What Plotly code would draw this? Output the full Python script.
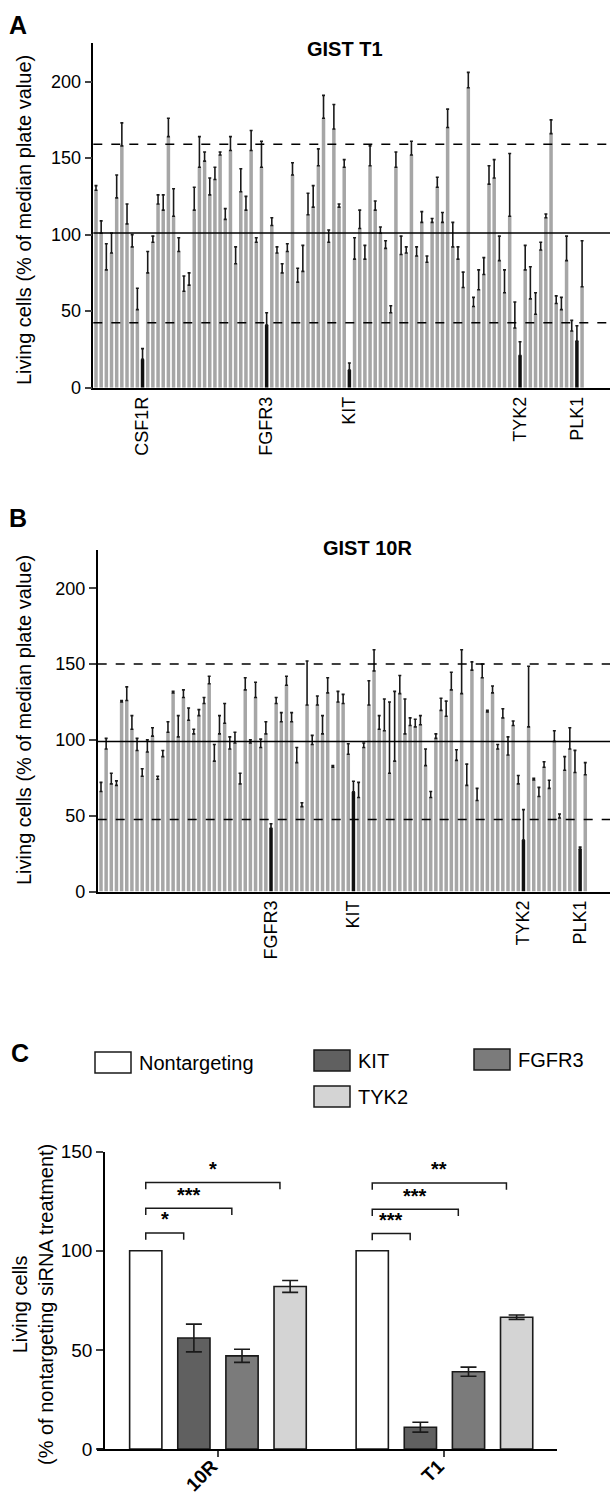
import plotly.graph_objects as go

W, H = 610, 1498
FONT = "Liberation Sans, Arial, Helvetica, sans-serif"
GRAY = "#a6a6a6"
HIT = "#111111"
INK = "#1a1a1a"

# ---------------- Panel A : GIST T1 screen ----------------
t1_values = [129, 101, 77, 88, 124, 158, 107, 92, 51, 18.5,
             75, 95, 120, 116, 164, 112, 89, 63, 67, 116,
             144, 148, 126, 136, 152, 110, 155, 81, 128, 116,
             155, 95, 144, 41, 106, 88, 75, 89, 139, 69,
             76, 113, 118, 145, 176, 95, 169, 118, 144, 11.6,
             84, 104, 84, 145, 116, 101, 91, 49, 144, 87,
             88, 152, 86, 108, 82, 108, 131, 108, 170, 92,
             84, 65.5, 196, 53, 64, 74, 133, 137, 83, 62,
             112, 39, 21, 77, 58, 48, 90, 111, 166, 55,
             51, 83, 37, 30.5, 66]
t1_errors = [3, 8, 17, 13, 15, 15, 13, 8, 14, 7,
             14, 4, 6, 10, 12, 18, 9, 10, 8, 15,
             20, 6, 11, 8, 2, 7, 9, 11, 15, 9,
             13, 3, 17, 8, 5, 4, 6, 5, 8, 9,
             17, 14, 14, 11, 15, 8, 16, 2, 5, 4.5,
             14, 12, 9, 13, 6, 4, 5, 4.5, 10, 12,
             4, 9, 6, 7, 4, 2.5, 6.5, 6.5, 12, 16,
             8, 10, 10, 6, 13, 11, 12, 12, 16, 15,
             41, 17, 9, 16, 21, 14, 5, 2.5, 9, 5,
             8, 16, 7, 10, 30]
t1_hit_positions = [10, 34, 50, 83, 94]
t1_hit_labels = ["CSF1R", "FGFR3", "KIT", "TYK2", "PLK1"]
t1_median = 101
t1_upper = 159
t1_lower = 42.5

# ---------------- Panel B : GIST 10R screen ----------------
r10_values = [66, 94, 71, 70, 125, 126, 107, 93, 76, 92,
              102.5, 74, 89, 105, 131, 102, 128, 113, 104, 116,
              124, 137, 86, 104, 111, 94, 98, 71, 133, 98,
              128, 95, 104, 41.7, 124, 112, 136, 112, 85, 56,
              123, 97, 123, 104, 131, 82, 125, 124, 90.5, 65.7,
              62, 95, 123, 145.5, 107, 106, 78, 86, 130.5, 104,
              109.5, 108.6, 110, 83, 62, 101, 119.5, 115.6, 133, 86.5,
              130.5, 70, 146, 60, 141, 118.5, 131, 94, 114.5, 90,
              109.5, 71, 34, 108.6, 73.6, 62.7, 82, 68, 99, 48.5,
              80, 94, 78.5, 28, 77]
r10_errors = [6, 7, 7, 3, 1, 9, 9, 8, 5, 8,
              5.5, 2, 4, 7, 1, 14, 5, 8, 3, 4,
              4, 5, 11, 12, 13, 8, 7, 7, 8, 2,
              10, 5.5, 8, 3, 4, 6, 6, 6, 10, 2.5,
              29, 6, 6, 12, 10, 1, 7, 6, 7, 7,
              10, 3, 16, 14, 9, 21, 47, 46, 12, 23,
              5, 5, 6, 11, 4, 3, 8, 10, 11.6, 7,
              29, 14, 5.5, 8, 9, 1, 4.6, 3, 6, 12,
              3, 5.5, 20, 40, 1, 6, 3.6, 5.4, 7, 2.6,
              9, 14, 14.6, 1.3, 8]
r10_hit_positions = [34, 50, 83, 94]
r10_hit_labels = ["FGFR3", "KIT", "TYK2", "PLK1"]
r10_median = 99
r10_upper = 150
r10_lower = 47.5

# ---------------- Panel C : validation ----------------
c_cell_lines = ["10R", "T1"]
c_series = ["Nontargeting", "KIT", "FGFR3", "TYK2"]
c_colors = ["#ffffff", "#606060", "#7b7b7b", "#d4d4d4"]
nt_values = [100, 100]
kit_values = [56, 11]
fgfr3_values = [47, 39]
tyk2_values = [82, 66.5]
nt_errors = [0, 0]
kit_errors = [7, 2.5]
fgfr3_errors = [3.3, 2.3]
tyk2_errors = [3, 1.1]
sig_lines = ["10R", "10R", "10R", "T1", "T1", "T1"]
sig_targets = [1, 2, 3, 1, 2, 3]
sig_labels = ["*", "***", "*", "***", "***", "**"]
sig_levels = [109, 121.5, 134.5, 108.7, 121, 134.2]


def px(x):
    return x / W


def py(y):
    return 1 - y / H


fig = go.Figure()


def screen_trace(values, errors, hits, xa, ya):
    idx = list(range(1, len(values) + 1))
    colors = [HIT if i in hits else GRAY for i in idx]
    return go.Bar(
        x=idx, y=values, width=0.68,
        marker=dict(color=colors, line=dict(width=0)),
        error_y=dict(type="data", array=errors, arrayminus=[0] * len(errors),
                     symmetric=False, color=INK, thickness=1.6, width=1.5),
        xaxis=xa, yaxis=ya, showlegend=False, hoverinfo="x+y")


fig.add_trace(screen_trace(t1_values, t1_errors, t1_hit_positions, "x", "y"))
fig.add_trace(screen_trace(r10_values, r10_errors, r10_hit_positions, "x2", "y2"))

c_value_lists = [nt_values, kit_values, fgfr3_values, tyk2_values]
c_error_lists = [nt_errors, kit_errors, fgfr3_errors, tyk2_errors]
for name, col, vals, errs in zip(c_series, c_colors, c_value_lists, c_error_lists):
    fig.add_trace(go.Bar(
        x=c_cell_lines, y=vals, name=name,
        marker=dict(color=col, line=dict(color=INK, width=1.6)),
        error_y=dict(type="data", array=errs, color=INK, thickness=1.6, width=8,
                     visible=any(e > 0 for e in errs)),
        xaxis="x3", yaxis="y3", showlegend=False))

axis_common = dict(showgrid=False, zeroline=False, showline=True, linecolor="black",
                   linewidth=1.5, automargin=False)

# domains (pixel rows)
A_bottom, A_top = 387.7, 43.3
B_bottom, B_top = 891.5, 550.4
C_bottom, C_top = 1449, 1151.7

fig.update_layout(
    width=W, height=H, margin=dict(l=0, r=0, t=0, b=0),
    paper_bgcolor="white", plot_bgcolor="white",
    font=dict(family=FONT, color="black", size=18),
    barmode="group", bargap=0.15, bargroupgap=0.33,
    xaxis=dict(domain=[px(93.3), 1], anchor="y", range=[0.478, 100.4],
               tickmode="array", tickvals=t1_hit_positions, ticktext=t1_hit_labels,
               tickangle=-90, ticks="", tickfont=dict(size=18), **axis_common),
    yaxis=dict(domain=[py(A_bottom), py(A_top)], anchor="x", range=[0, 225],
               tickvals=[0, 50, 100, 150, 200], ticks="outside", ticklen=7,
               tickwidth=1.5, tickfont=dict(size=18), **axis_common),
    xaxis2=dict(domain=[px(97.7), 1], anchor="y2", range=[0.36, 99.8],
                tickmode="array", tickvals=r10_hit_positions, ticktext=r10_hit_labels,
                tickangle=-90, ticks="", tickfont=dict(size=18), **axis_common),
    yaxis2=dict(domain=[py(B_bottom), py(B_top)], anchor="x2", range=[0, 225],
                tickvals=[0, 50, 100, 150, 200], ticks="outside", ticklen=7,
                tickwidth=1.5, tickfont=dict(size=18), **axis_common),
    xaxis3=dict(domain=[px(97), px(557)], anchor="y3", range=[-0.534, 1.497],
                type="category", ticks="outside", ticklen=6, tickwidth=1.5,
                tickangle=-45, ticklabelshift=-6, ticklabelstandoff=-9,
                tickfont=dict(size=19, family=FONT, weight="bold"),
                **axis_common),
    yaxis3=dict(domain=[py(C_bottom), py(C_top)], anchor="free", position=px(104),
                range=[0, 150], tickvals=[0, 50, 100, 150], ticks="outside", ticklen=7,
                tickwidth=1.5, tickfont=dict(size=19), **axis_common),
)

shapes = []
# reference lines panel A and B
for yref, xref, med, up, lo in [("y", "x domain", t1_median, t1_upper, t1_lower),
                                ("y2", "x2 domain", r10_median, r10_upper, r10_lower)]:
    shapes.append(dict(type="line", xref=xref, yref=yref, x0=0, x1=1, y0=med, y1=med,
                       line=dict(color="black", width=1.5), layer="above"))
    for v in (up, lo):
        shapes.append(dict(type="line", xref=xref, yref=yref, x0=0, x1=1, y0=v, y1=v,
                           line=dict(color="black", width=1.5, dash="dash"), layer="above"))

# significance brackets panel C
slot = (1 - 0.15) / len(c_series)
offsets = [(-1.5 + k) * slot for k in range(len(c_series))]
annotations = []
for line_name, tgt, lab, lev in zip(sig_lines, sig_targets, sig_labels, sig_levels):
    g = c_cell_lines.index(line_name)
    x0 = g + offsets[0]
    x1 = g + offsets[tgt] - 0.045
    drop = 3.4
    shapes.append(dict(type="path", xref="x3", yref="y3",
                       path=f"M {x0},{lev - drop} L {x0},{lev} L {x1},{lev} L {x1},{lev - drop}",
                       line=dict(color=INK, width=1.5)))
    annotations.append(dict(x=(x0 + x1) / 2, y=lev + 0.3, xref="x3", yref="y3", text=lab,
                            showarrow=False, xanchor="center", yanchor="bottom",
                            font=dict(size=20, family=FONT, weight="bold")))

# legend panel C (drawn manually)
legend_pos = [(95, 1052), (314, 1050), (474, 1049), (314, 1086)]
for (lx, ly), name, col in zip(legend_pos, c_series, c_colors):
    shapes.append(dict(type="rect", xref="paper", yref="paper",
                       x0=px(lx), x1=px(lx + 36), y0=py(ly + 21), y1=py(ly),
                       fillcolor=col, line=dict(color=INK, width=1.5)))
    annotations.append(dict(x=px(lx + 42), y=py(ly + 10.5), xref="paper", yref="paper",
                            text=name, showarrow=False, xanchor="left", yanchor="middle",
                            font=dict(size=20)))


def centered(text, x, y, size, bold=False, angle=0):
    f = dict(size=size)
    if bold:
        f["weight"] = "bold"
    return dict(x=px(x), y=py(y), xref="paper", yref="paper", text=text,
                showarrow=False, xanchor="center", yanchor="middle",
                textangle=angle, font=f)


# panel letters and titles
for letter, (x, y) in zip(["A", "B", "C"], [(18, 25), (18, 518), (20, 1053)]):
    annotations.append(centered(letter, x, y, 25, bold=True))
annotations.append(centered("GIST T1", 345, 49, 20, bold=True))
annotations.append(centered("GIST 10R", 367, 548, 20, bold=True))
ytitle = "Living cells (% of median plate value)"
annotations.append(centered(ytitle, 24, 220, 20, angle=-90))
annotations.append(centered(ytitle, 24, 720, 20, angle=-90))
annotations.append(centered("Living cells<br>(% of nontargeting siRNA treatment)",
                            33, 1305, 20, angle=-90))

# extend x-axis line of panel C left of the y-axis (GraphPad style)
shapes.append(dict(type="line", xref="paper", yref="paper", x0=px(97), x1=px(104),
                   y0=py(C_bottom), y1=py(C_bottom), line=dict(color="black", width=1.5)))

fig.update_layout(shapes=shapes, annotations=annotations)
fig.write_html("out.html", config={"displayModeBar": False},
               post_script="document.body.style.margin='0px';document.body.style.overflow='hidden';")
